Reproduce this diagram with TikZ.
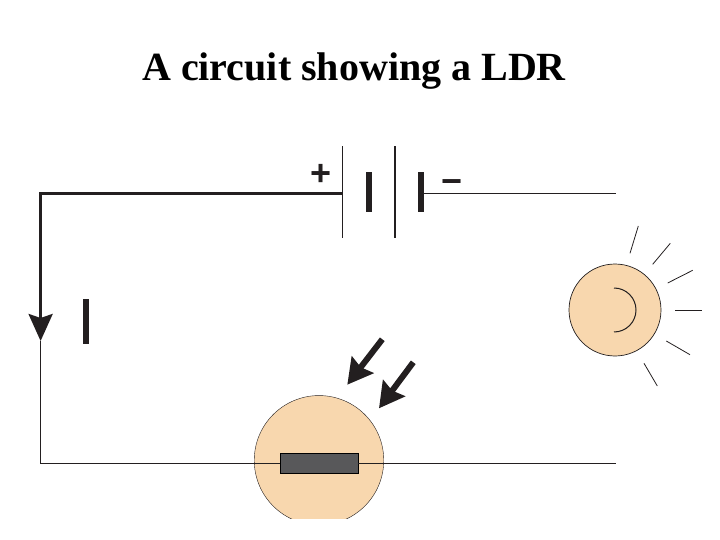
\documentclass[tikz,border=0pt]{standalone}
\usepackage{fontspec}
\setmainfont{Liberation Serif}
\newfontfamily\signfont{Liberation Sans}
\usetikzlibrary{arrows.meta}
\definecolor{peach}{HTML}{F8D7AE}
\definecolor{slab}{HTML}{58585A}
\definecolor{ink}{HTML}{231F20}
\tikzset{>={Stealth[length=27pt, width=24pt, inset=4pt]}}
\tikzset{
    wire/.style={line width=1pt, ink},
    thickwire/.style={line width=3pt, ink},
    plate/.style={draw=none, fill=ink, inner sep=0pt, outer sep=0pt, minimum width=1.4pt, minimum height=92pt},
    cell/.style={draw=none, fill=ink, inner sep=0pt, outer sep=0pt, minimum width=6pt, minimum height=40pt},
    globe/.style={circle, draw=ink, fill=peach, line width=.7pt, inner sep=0pt, outer sep=0pt},
    ray/.style={line width=.8pt, ink},
    beam/.style={line width=6pt, ink, -{Stealth[length=25pt, width=27pt, inset=3pt]}},
    sign/.style={inner sep=0pt, font=\signfont\bfseries\fontsize{36}{36}\selectfont, ink}
}

\begin{document}
\begin{tikzpicture}[x=1pt, y=-1pt]
    \useasboundingbox(0, 0)rectangle(720, 540);
    \node[font=\bfseries\fontsize{40}{44}\selectfont](title)at(354, 71.5){A circuit showing a LDR};
    % corners of the loop
    \coordinate(topleft)at(40.6, 193.3);
    \coordinate(botleft)at(40.6, 463.5);
    \coordinate(topright)at(616, 193.3);
    \coordinate(botright)at(616, 463.5);
    \coordinate(tip)at(40.6, 341);
    % battery
    \node[plate](plateA)at(342.5, 192){};
    \node[plate](plateB)at(395, 192){};
    \node[cell](cellA)at(368.5, 192){};
    \node[cell](cellB)at(421, 192){};
    \node[sign](plus)at(321, 175){+};
    \node[sign](minus)at(452, 186.5){−};
    % current marker
    \node[cell, minimum height=45pt](mark)at(86, 321.5){};
    % lamp
    \node[globe, minimum size=92pt](lamp)at(615, 310){};
    \draw[line width=1pt, ink](614, 288)arc(-90:90:22);
    \draw[ray](630, 253.3)--(638.3, 226);
    \draw[ray](652.7, 264.3)--(670.3, 243.3);
    \draw[ray](667.7, 283)--(692.7, 270.3);
    \draw[ray](675.3, 310)--(701.7, 310);
    \draw[ray](666.3, 341)--(690, 354.7);
    \draw[ray](644, 363.3)--(657.3, 386);
    % ldr, cut off at the bottom
    \begin{scope}
        \clip(240, 380)rectangle(400, 518.5);
        \node[globe, draw=ink, line width=.4pt, minimum size=129.5pt](ldr)at(319, 460.3){};
    \end{scope}
    \node[draw=black, fill=slab, line width=1pt, inner sep=0pt, outer sep=0pt, minimum width=78pt, minimum height=19.5pt](slab)at(319, 463.7){};
    \draw[beam](382.3, 339.3)--(347.3, 384.7);
    \draw[beam](413.3, 362.3)--(379, 408.3);
    % wires
    \draw[thickwire, line cap=rect](plateA.west |- topleft)--(topleft)--(40.6, 330);
    \draw[thickwire, ->](40.6, 320)--(tip);
    \draw[wire](tip)--(botleft)--(slab.west |- botleft);
    \draw[wire](slab.east |- botleft)--(botright);
    \draw[wire](cellB.center |- topright)--(topright);
\end{tikzpicture}
\end{document}
